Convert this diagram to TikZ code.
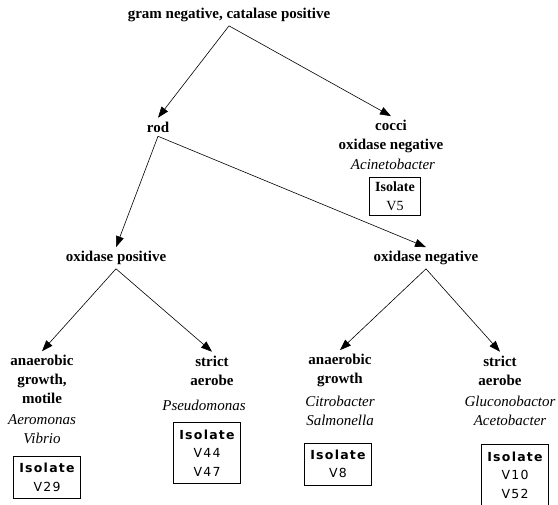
\documentclass[tikz,border=0pt]{standalone}
\usepackage{fontspec}
\setmainfont{Liberation Serif}
\newfontfamily\isofont[LetterSpace=10]{DejaVu Sans}
\usetikzlibrary{arrows.meta}
\begin{document}
\begin{tikzpicture}
		[x=1pt,y=-1pt,
			testnode/.style={font=\fontsize{15}{19}\selectfont\bfseries,align=center,inner sep=0pt,outer sep=4pt},
			genusnode/.style={font=\fontsize{15}{19}\selectfont\itshape,align=center,inner sep=0pt},
			isobox/.style={draw,line width=0.8pt,font=\isofont\fontsize{12.5}{18.5}\selectfont,align=center,inner xsep=5.5pt,inner ysep=7pt},
			arr/.style={-{Triangle[length=11pt,width=8pt]},line width=0.6pt}]
	\useasboundingbox (0,0) rectangle (558,505);
	\node[testnode,name=top] at (229,15) {gram negative, catalase positive};
	\node[testnode,name=rod] at (158,127) {rod};
	\node[testnode,name=cocci] at (391,136.5) {cocci\\oxidase negative};
	\node[testnode,name=oxpos] at (116,258) {oxidase positive};
	\node[testnode,name=oxneg] at (426,258) {oxidase negative};
	\node[testnode,name=anmot] at (42,379.5) {anaerobic\\growth,\\motile};
	\node[testnode,name=strpos] at (212,370.5) {strict\\aerobe};
	\node[testnode,name=anneg] at (340,370.5) {anaerobic\\growth};
	\node[testnode,name=strneg] at (500,370.5) {strict\\aerobe};
	% genera
	\node[genusnode,name=gcocci] at (393,164) {Acinetobacter};
	\node[genusnode,name=ganmot] at (42,429.5) {Aeromonas\\Vibrio};
	\node[genusnode,name=gstrpos] at (204,405) {Pseudomonas};
	\node[genusnode,name=ganneg] at (340,411) {Citrobacter\\Salmonella};
	\node[genusnode,name=gstrneg] at (510,411) {Gluconobactor\\Acetobacter};
	% isolates
	\node[isobox,name=v5,font=\fontsize{14}{19}\selectfont,inner xsep=6pt,inner ysep=4.5pt] at (395,196.5) {{\bfseries Isolate}\\V5};
	\foreach \b/\x/\y/\v in {v29/47/477.5/{V29},v44/207/453/{V44\\V47},v8/338/464/{V8},v10/515/475/{V10\\V52}}
	{
		\node[isobox,name=\b] at (\x,\y) {{\bfseries Isolate}\\\v};
	}
	\draw[arr] (top.south) -- (rod.north);
	\draw[arr] (top.south) -- (cocci.north);
	\draw[arr] (rod.south) -- (oxpos.north);
	\draw[arr] (rod.south) -- (oxneg.north);
	\draw[arr] (oxpos.south) -- (anmot.north);
	\draw[arr] (oxpos.south) -- (strpos.north);
	\draw[arr] (oxneg.south) -- (anneg.north);
	\draw[arr] (oxneg.south) -- (strneg.north);
\end{tikzpicture}
\end{document}
